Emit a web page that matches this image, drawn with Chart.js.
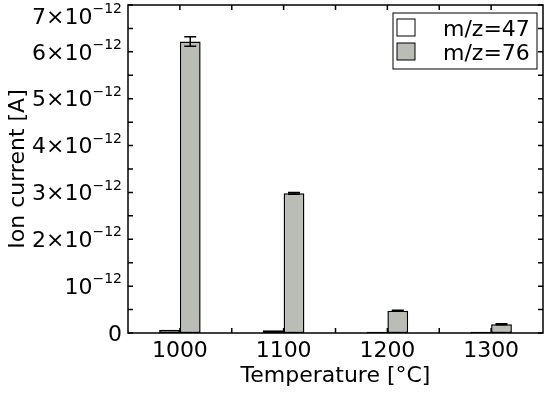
<!DOCTYPE html>
<html>
<head>
<meta charset="utf-8">
<script src="https://cdn.jsdelivr.net/npm/chart.js@4/dist/chart.umd.min.js"></script>
<style>
  html, body { margin: 0; padding: 0; background: #fff; }
  #wrap { width: 550px; height: 394px; }
</style>
</head>
<body>
<div id="wrap"><canvas id="chart" width="550" height="394"></canvas></div>
<script>
// temperatures on the x axis
const temperatures = ["1000", "1100", "1200", "1300"]
// ion current, in units of 1e-12 A
const mz47 = [0.07, 0.06, 0.025, 0.025]
const mz76 = [6.22, 2.98, 0.475, 0.185]
// error bars (same units)
const err47 = [0, 0, 0, 0]
const err76 = [0.1, 0.02, 0.01, 0.01]
const seriesLabels = ["m/z=47", "m/z=76"]
const yTicks = [0, 1, 2, 3, 4, 5, 6, 7]

const FONT = "DejaVu Sans"
const GREY = "#babdb6"

// frame, inward ticks, y labels with exponents, error bars and legend box
const extras = {
    id: "extras",
    afterDatasetsDraw(chart) {
        const ctx = chart.ctx
        const a = chart.chartArea
        const xs = chart.scales.x
        const ys = chart.scales.y
        ctx.save()
        ctx.strokeStyle = "#000"
        ctx.lineWidth = 1.5

        // error bars
        const errs = [err47, err76]
        chart.data.datasets.forEach(function (ds, i) {
            const meta = chart.getDatasetMeta(i)
            meta.data.forEach(function (bar, j) {
                const e = errs[i][j]
                if (!e) return
                const v = ds.data[j]
                const yTop = ys.getPixelForValue(v + e)
                const yBot = ys.getPixelForValue(v - e)
                ctx.beginPath()
                ctx.moveTo(bar.x, yBot); ctx.lineTo(bar.x, yTop)
                ctx.moveTo(bar.x - 6, yTop); ctx.lineTo(bar.x + 6, yTop)
                ctx.moveTo(bar.x - 6, yBot); ctx.lineTo(bar.x + 6, yBot)
                ctx.stroke()
            })
        })

        // frame
        ctx.strokeRect(a.left, a.top, a.right - a.left, a.bottom - a.top)

        // x ticks, top and bottom, at centres and between categories
        const tl = 5
        for (let k = 0; k < temperatures.length * 2 - 1; k++) {
            const px = xs.getPixelForValue(k / 2)
            ctx.beginPath()
            ctx.moveTo(px, a.top); ctx.lineTo(px, a.top + tl)
            ctx.moveTo(px, a.bottom); ctx.lineTo(px, a.bottom - tl)
            ctx.stroke()
        }
        // y ticks, left and right, every half step
        for (let v = ys.min; v <= ys.max; v += 0.5) {
            const py = ys.getPixelForValue(v)
            ctx.beginPath()
            ctx.moveTo(a.left, py); ctx.lineTo(a.left + tl, py)
            ctx.moveTo(a.right, py); ctx.lineTo(a.right - tl, py)
            ctx.stroke()
        }

        // y tick labels: n×10^-12
        ctx.fillStyle = "#000"
        ctx.textBaseline = "middle"
        ctx.textAlign = "right"
        yTicks.forEach(function (v) {
            const py = Math.max(ys.getPixelForValue(v) + 2, a.top + 13)
            const xr = a.left - 6
            if (v === 0) {
                ctx.font = "22px '" + FONT + "'"
                ctx.fillText("0", xr, py)
                return
            }
            ctx.font = "14px '" + FONT + "'"
            const sup = "\u221212"
            const wSup = ctx.measureText(sup).width
            ctx.fillText(sup, xr, py - 8.5)
            ctx.font = "22px '" + FONT + "'"
            const main = v === 1 ? "10" : v + "\u00d710"
            ctx.fillText(main, xr - wSup, py)
        })

        // legend
        const lx = a.right - 150, ly = a.top + 8, lw = 144, lh = 56
        ctx.fillStyle = "#fff"
        ctx.fillRect(lx, ly, lw, lh)
        ctx.lineWidth = 1
        ctx.strokeRect(lx, ly, lw, lh)
        ctx.textAlign = "left"
        ctx.textBaseline = "alphabetic"
        ctx.font = "22px '" + FONT + "'"
        chart.data.datasets.forEach(function (ds, i) {
            const ry = ly + 6 + i * 24
            ctx.fillStyle = ds.backgroundColor
            ctx.fillRect(lx + 4, ry, 18, 17)
            ctx.strokeRect(lx + 4, ry, 18, 17)
            ctx.fillStyle = "#000"
            ctx.fillText(ds.label, lx + 50, ry + 17)
        })
        ctx.restore()
    }
}

new Chart(document.getElementById("chart").getContext("2d"), {
    type: "bar",
    data: {
        labels: temperatures,
        datasets: [{
            label: seriesLabels[0],
            data: mz47,
            backgroundColor: "#ffffff",
            borderColor: "#000",
            borderWidth: 1.5,
            borderSkipped: false
        }, {
            label: seriesLabels[1],
            data: mz76,
            backgroundColor: GREY,
            borderColor: "#000",
            borderWidth: 1.5,
            borderSkipped: false
        }]
    },
    options: {
        responsive: false,
        animation: false,
        devicePixelRatio: 1,
        categoryPercentage: 0.4,
        barPercentage: 1,
        layout: { padding: { left: 0, right: 7, top: 5, bottom: 0 } },
        plugins: {
            legend: { display: false },
            tooltip: { enabled: false }
        },
        scales: {
            x: {
                grid: { display: false, drawTicks: false },
                border: { display: false },
                ticks: { color: "#000", padding: 5, font: { family: FONT, size: 22 } },
                title: {
                    display: true, text: "Temperature [\u00b0C]", color: "#000",
                    font: { family: FONT, size: 22 }, padding: { top: 0, bottom: 5 }
                },
                afterFit(scale) { scale.height = 61 }
            },
            y: {
                min: 0, max: 7,
                grid: { display: false, drawTicks: false },
                border: { display: false },
                ticks: { display: false, stepSize: 1 },
                title: {
                    display: true, text: "Ion current [A]", color: "#000",
                    font: { family: FONT, size: 22 }, padding: { top: 5, bottom: 0 }
                },
                afterFit(scale) { scale.width = 128 }
            }
        }
    },
    plugins: [extras]
})
</script>
</body>
</html>
